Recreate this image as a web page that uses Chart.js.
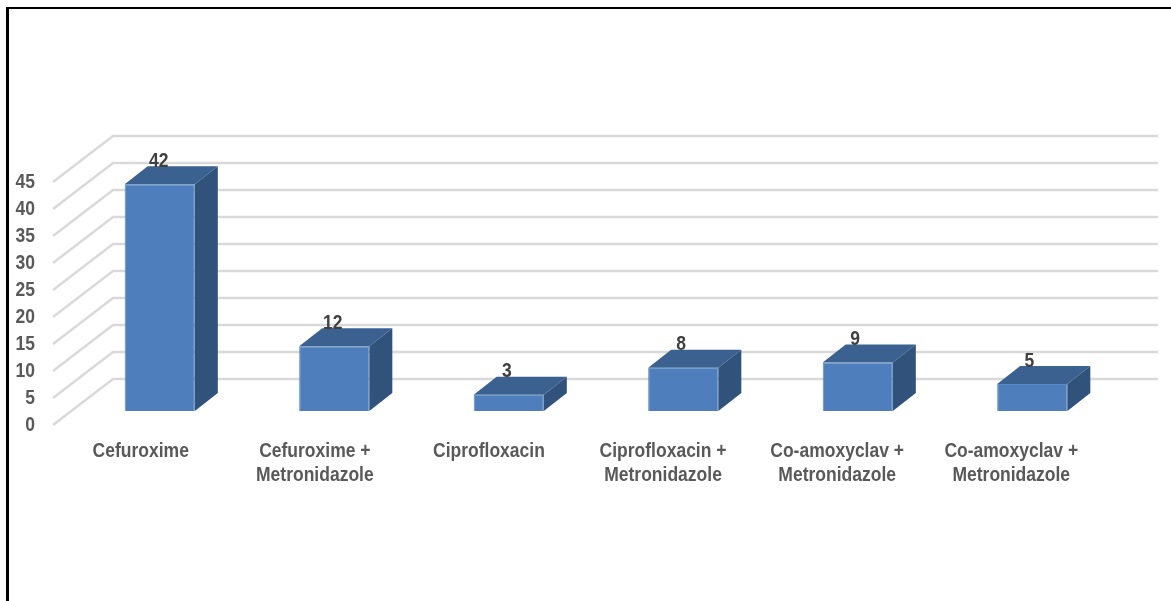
<!DOCTYPE html>
<html>
<head>
<meta charset="utf-8">
<style>
  html, body { margin: 0; padding: 0; background: #fff; overflow: hidden; }
  #wrap { position: relative; width: 1171px; height: 601px; }
  #frame { position: absolute; left: 6px; top: 7px; right: 0; bottom: -4px; border-left: 3px solid #000; border-top: 2px solid #000; }
  canvas { position: absolute; left: 0; top: 0; }
</style>
<script src="https://cdn.jsdelivr.net/npm/chart.js@4"></script>
</head>
<body>
<div id="wrap">
  <canvas id="chart" width="1171" height="601"></canvas>
  <div id="frame"></div>
</div>
<script>
const categories = [
  ['Cefuroxime'],
  ['Cefuroxime +', 'Metronidazole'],
  ['Ciprofloxacin'],
  ['Ciprofloxacin +', 'Metronidazole'],
  ['Co-amoxyclav +', 'Metronidazole'],
  ['Co-amoxyclav +', 'Metronidazole']
];
const patients = [42, 12, 3, 8, 9, 5];
const yTicks = [0, 5, 10, 15, 20, 25, 30, 35, 40, 45];

const labelFont = 'bold 20px "Liberation Sans", Arial, sans-serif';
const narrow = 0.875; // no condensed face installed, so text gets squeezed sideways
const labelDrift = 0.4; // text spacing runs slightly tighter than the categories

// depth of the bars and of the floor, in pixels
const barDepth = { x: 23, y: -18 };
const wallFront = { x: 53, y: 14 };
const wallBack = { x: 113, y: -32, right: 1158 };

function narrowText(ctx, text, x, y) {
  ctx.save();
  ctx.translate(x, y);
  ctx.scale(narrow, 1);
  ctx.fillText(text, 0, 0);
  ctx.restore();
}

// walls of the 3D plot: a diagonal on the side wall plus a line on the back wall per tick
const wallGrid = {
  id: 'wallGrid',
  beforeDatasetsDraw(chart) {
    const { ctx, scales: { y } } = chart;
    ctx.save();
    ctx.strokeStyle = '#d9d9d9';
    ctx.lineWidth = 2.4;
    yTicks.forEach(tick => {
      const py = y.getPixelForValue(tick);
      ctx.beginPath();
      ctx.moveTo(wallFront.x, py + wallFront.y);
      ctx.lineTo(wallBack.x, py + wallBack.y);
      ctx.lineTo(wallBack.right, py + wallBack.y);
      ctx.stroke();
    });
    ctx.restore();
  }
};

// top and side faces of each bar, then the value label
const barFaces = {
  id: 'barFaces',
  afterDatasetsDraw(chart) {
    const { ctx } = chart;
    const bars = chart.getDatasetMeta(0).data;
    ctx.save();
    bars.forEach((bar, i) => {
      const half = bar.width / 2;
      const left = bar.x - half;
      const right = bar.x + half;

      ctx.fillStyle = '#3b6191';
      ctx.beginPath();
      ctx.moveTo(left, bar.y);
      ctx.lineTo(left + barDepth.x, bar.y + barDepth.y);
      ctx.lineTo(right + barDepth.x, bar.y + barDepth.y);
      ctx.lineTo(right, bar.y);
      ctx.closePath();
      ctx.fill();

      ctx.fillStyle = '#31527b';
      ctx.beginPath();
      ctx.moveTo(right, bar.y);
      ctx.lineTo(right + barDepth.x, bar.y + barDepth.y);
      ctx.lineTo(right + barDepth.x, bar.base + barDepth.y);
      ctx.lineTo(right, bar.base);
      ctx.closePath();
      ctx.fill();

      ctx.fillStyle = '#404040';
      ctx.font = labelFont;
      ctx.textAlign = 'center';
      ctx.textBaseline = 'middle';
      narrowText(ctx, String(patients[i]), bar.x - 1 - labelDrift * i, bar.y - 23);
    });
    ctx.restore();
  }
};

// axis text, placed from the scales
const axisLabels = {
  id: 'axisLabels',
  afterDraw(chart) {
    const { ctx, scales: { x, y } } = chart;
    ctx.save();
    ctx.fillStyle = '#595959';
    ctx.font = labelFont;
    ctx.textBaseline = 'middle';

    ctx.textAlign = 'right';
    yTicks.forEach(tick => {
      narrowText(ctx, String(tick), 35, y.getPixelForValue(tick) + 14);
    });

    ctx.textAlign = 'center';
    categories.forEach((lines, i) => {
      lines.forEach((line, n) => {
        narrowText(ctx, line, x.getPixelForValue(i) - 19 - labelDrift * i, y.bottom + 40 + n * 24);
      });
    });
    ctx.restore();
  }
};

new Chart(document.getElementById('chart'), {
  type: 'bar',
  data: {
    labels: categories,
    datasets: [{
      data: patients,
      backgroundColor: '#4e7fbc',
      borderColor: '#5a89c4',
      borderWidth: 1,
      barPercentage: 0.402,
      categoryPercentage: 1
    }]
  },
  options: {
    responsive: false,
    animation: false,
    layout: { padding: { top: 168, right: 51.5, left: 0, bottom: 0 } },
    plugins: { legend: { display: false }, tooltip: { enabled: false } },
    scales: {
      x: {
        grid: { display: false, drawTicks: false },
        border: { display: false },
        ticks: { display: false },
        afterFit(scale) { scale.height = 190; scale.paddingLeft = 0; scale.paddingRight = 0; }
      },
      y: {
        min: 0,
        max: 45,
        grid: { display: false, drawTicks: false },
        border: { display: false },
        ticks: { display: false },
        afterFit(scale) { scale.width = 72.5; }
      }
    }
  },
  plugins: [wallGrid, barFaces, axisLabels]
});
</script>
</body>
</html>
